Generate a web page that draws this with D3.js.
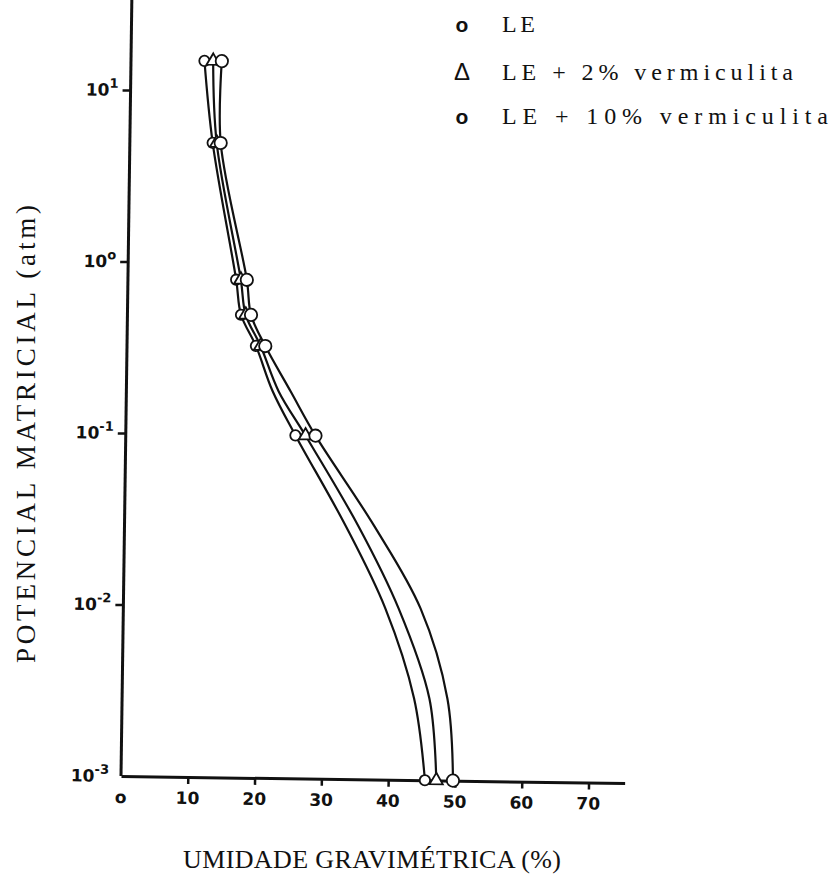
<!DOCTYPE html>
<html>
<head>
<meta charset="utf-8">
<script src="https://cdn.jsdelivr.net/npm/d3@7"></script>
<style>
	body { margin:0; background:#fff; }
	.axis path, .axis line { stroke:#111; }
	.tick_label { font-family:"DejaVu Sans", sans-serif; font-weight:bold; fill:#111; }
	.typed { font-family:"Liberation Serif", serif; fill:#111; }
</style>
</head>
<body>
<div id="chart"></div>
<script>
// potencial matricial (atm); marcado = drawn with a symbol
var potencial = [15, 5, 0.8, 0.5, 0.33, 0.18, 0.1, 0.03, 0.01, 0.003, 0.001];
var marcado = [1, 1, 1, 1, 1, 0, 1, 0, 0, 0, 1];

// umidade gravimetrica (%)
var umidade_LE   = [11.0, 12.4, 16.2, 17.0, 19.3, 21.9, 25.4, 33.1, 39.2, 43.7, 45.5];
var umidade_LE2  = [12.3, 13.0, 16.9, 17.7, 20.0, 22.8, 26.9, 35.0, 41.2, 46.0, 47.2];
var umidade_LE10 = [13.6, 13.6, 17.8, 18.5, 20.7, 24.6, 28.4, 37.4, 44.5, 48.7, 49.7];

var x_ticks = [10, 20, 30, 40, 50, 60, 70];
var x_tick_labels = ["o", "10", "20", "30", "40", "50", "60", "70"];
var y_ticks = [10, 1, 0.1, 0.01];
var y_label_values = [10, 1, 0.1, 0.01, 0.001];
var y_label_exps = ["1", "o", "-1", "-2", "-3"];

var legend_symbols = ["o", "\u0394", "o"];
var legend_labels = ["LE", "LE + 2% vermiculita", "LE + 10% vermiculita"];

var series = [
	{name:"LE", values:umidade_LE, symbol:d3.symbolCircle, size:85},
	{name:"LE2", values:umidade_LE2, symbol:d3.symbolTriangle, size:75},
	{name:"LE10", values:umidade_LE10, symbol:d3.symbolCircle, size:120}
];

var width = 836, height = 875;
var ox = 121, oy = 776;

var svg = d3.select("#chart").append("svg")
			.attr("width", width)
			.attr("height", height);

svg.append("rect").attr("width", width).attr("height", height).attr("fill", "#fff");

var x = d3.scaleLinear().domain([0, 75.4]).range([ox, ox + 75.4 * 6.68]);
var y = d3.scaleLog().domain([0.001, 10]).range([oy, 90]);

// the scanned sheet is a little tilted
var plot = svg.append("g").attr("transform", "rotate(0.8," + ox + "," + oy + ")");

var yAxis = d3.axisLeft(y).tickValues(y_ticks).tickSize(8).tickSizeOuter(0).tickFormat("");
plot.append("g")
	.attr("class", "axis")
	.attr("transform", "translate(" + ox + ",0)")
	.call(yAxis);
plot.select(".axis path").attr("d", "M0," + oy + "V-20");
plot.selectAll(".axis path").attr("stroke-width", 3);
plot.selectAll(".axis line").attr("stroke-width", 2.5);

var xAxis = d3.axisBottom(x).tickValues(x_ticks).tickSize(7).tickSizeOuter(0).tickFormat("");
var gx = plot.append("g")
	.attr("class", "axis")
	.attr("transform", "translate(0," + oy + ")")
	.call(xAxis);
gx.select("path").attr("stroke-width", 3);
gx.selectAll("line").attr("stroke-width", 2.5);

// tick labels
plot.selectAll("text.xlab")
	.data([0].concat(x_ticks))
	.enter()
	.append("text")
	.attr("class", "tick_label xlab")
	.attr("x", function(d){ return x(d); })
	.attr("y", oy + 27)
	.attr("text-anchor", "middle")
	.attr("font-size", 17)
	.text(function(d, i){ return x_tick_labels[i]; });

var ylab = plot.selectAll("text.ylab")
	.data(y_label_values)
	.enter()
	.append("text")
	.attr("class", "tick_label ylab")
	.attr("x", ox - 12)
	.attr("y", function(d){ return y(d) + 6; })
	.attr("text-anchor", "end")
	.attr("font-size", 17);
ylab.append("tspan").text("10");
ylab.append("tspan")
	.attr("dy", -8)
	.attr("font-size", 13)
	.text(function(d, i){ return y_label_exps[i]; });

// curves
var line = d3.line()
	.x(function(d){ return x(d.u); })
	.y(function(d){ return y(d.p); })
	.curve(d3.curveCatmullRom.alpha(0.5));

series.forEach(function(s){
	var pts = potencial.map(function(p, i){ return {p:p, u:s.values[i], m:marcado[i]}; });
	plot.append("path")
		.datum(pts)
		.attr("d", line)
		.attr("fill", "none")
		.attr("stroke", "#111")
		.attr("stroke-width", 2.2);
	s.pts = pts;
});

series.forEach(function(s){
	plot.selectAll("path.mk_" + s.name)
		.data(s.pts.filter(function(d){ return d.m; }))
		.enter()
		.append("path")
		.attr("class", "mk_" + s.name)
		.attr("d", d3.symbol().type(s.symbol).size(s.size))
		.attr("transform", function(d){ return "translate(" + x(d.u) + "," + y(d.p) + ")"; })
		.attr("fill", "#fff")
		.attr("stroke", "#111")
		.attr("stroke-width", 1.8);
});

// legend
var legend = svg.selectAll("g.legend")
	.data(legend_labels)
	.enter()
	.append("g")
	.attr("class", "legend")
	.attr("transform", function(d, i){ return "translate(0," + [32, 80, 124][i] + ")"; });

legend.append("text")
	.attr("x", 462)
	.attr("text-anchor", "middle")
	.attr("font-family", "Liberation Sans, sans-serif")
	.attr("font-weight", function(d, i){ return i == 1 ? "normal" : "bold"; })
	.attr("font-size", function(d, i){ return i == 1 ? 24 : 21; })
	.attr("fill", "#111")
	.text(function(d, i){ return legend_symbols[i]; });

legend.append("text")
	.attr("class", "typed")
	.attr("x", 502)
	.attr("font-size", 24)
	.attr("textLength", function(d, i){ return [33, 291, 326][i]; })
	.attr("lengthAdjust", "spacing")
	.text(function(d){ return d; });

// axis titles
svg.append("text")
	.attr("class", "typed")
	.attr("x", 183)
	.attr("y", 868)
	.attr("font-size", 26)
	.attr("textLength", 378)
	.attr("lengthAdjust", "spacing")
	.text("UMIDADE GRAVIM\u00c9TRICA (%)");

svg.append("text")
	.attr("class", "typed")
	.attr("transform", "translate(35,663) rotate(-90)")
	.attr("font-size", 27)
	.attr("textLength", 458)
	.attr("lengthAdjust", "spacing")
	.text("POTENCIAL MATRICIAL (atm)");
</script>
</body>
</html>
